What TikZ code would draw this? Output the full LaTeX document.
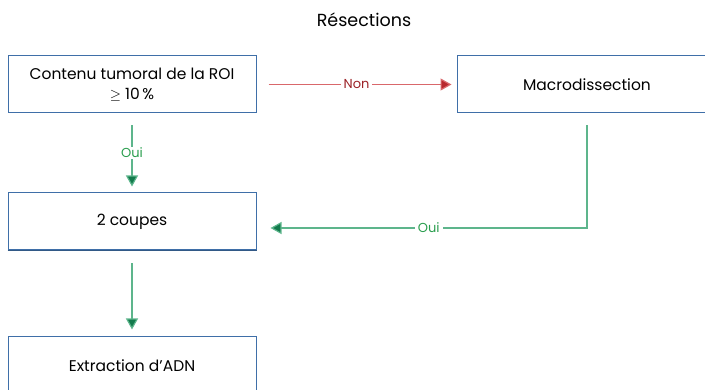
\documentclass[tikz,border=0pt]{standalone}
\usepackage{fontspec}
\setmainfont{Poppins}
\usetikzlibrary{arrows.meta,positioning}
\definecolor{boxblue}{HTML}{3F6FA8}
\definecolor{nonred}{HTML}{D9676B}
\definecolor{nondark}{HTML}{B8282E}
\definecolor{ouigreen}{HTML}{5DB58C}
\definecolor{ouidark}{HTML}{137A4C}
\definecolor{ouitext}{HTML}{2A9E4E}
\tikzset{
	etape/.style={draw=boxblue, line width=1pt, minimum width=248pt, minimum height=57pt, align=center, font=\fontsize{15.5}{20}\selectfont, inner sep=0pt},
	fleche/.style={line width=1.2pt},
	etiquette/.style={fill=white, inner xsep=3pt, inner ysep=1pt, font=\fontsize{13}{15}\selectfont}
}

\begin{document}
\begin{tikzpicture}[x=1pt, y=-1pt]
			%%%%% START %%%%%
			\useasboundingbox (0, 0) rectangle (705, 390);
			\clip (0, 0) rectangle (705, 390);
			
			\node[font=\fontsize{17.5}{20}\selectfont] (titre) at (364, 20) {Résections};
			
			\node[etape] (roi) at (132, 84.5) {Contenu tumoral de la ROI\\$\geq$ 10\,\%};
			\node[etape, minimum width=260pt] (macro) at (587, 84.5) {Macrodissection};
			\node[etape] (coupes) at (132, 221.5) {2 coupes};
			\draw[boxblue!80!black, line width=1.8pt] (coupes.south west) -- (coupes.south east);
			\node[etape] (adn) at (132, 365.5) {Extraction d’ADN};
			
			\coordinate (retour) at ([yshift=-6.5pt]coupes.east);
			
			% Non
			\draw[fleche, nonred, -{Triangle[length=11pt,width=12pt,fill=nondark]}, shorten <=12pt, shorten >=5pt] (roi) -- (macro)
				node[etiquette, midway, text=nondark!85!black] {Non};
			
			% Oui
			\draw[fleche, ouigreen, -{Triangle[length=11pt,width=12pt,fill=ouidark]}, shorten <=12pt, shorten >=6pt] (roi) -- (coupes)
				node[etiquette, midway, text=ouitext] {Oui};
			\draw[fleche, ouigreen, -{Triangle[length=11pt,width=12pt,fill=ouidark]}, shorten <=12pt] (macro.south) |- ([xshift=14pt]retour)
				node[etiquette, pos=0.75, text=ouitext] {Oui};
			
			\draw[fleche, ouigreen, -{Triangle[length=11pt,width=12pt,fill=ouidark]}, shorten <=13pt, shorten >=7pt] (coupes) -- (adn);
			
			%%%%% END %%%%%
		\end{tikzpicture}
\end{document}
